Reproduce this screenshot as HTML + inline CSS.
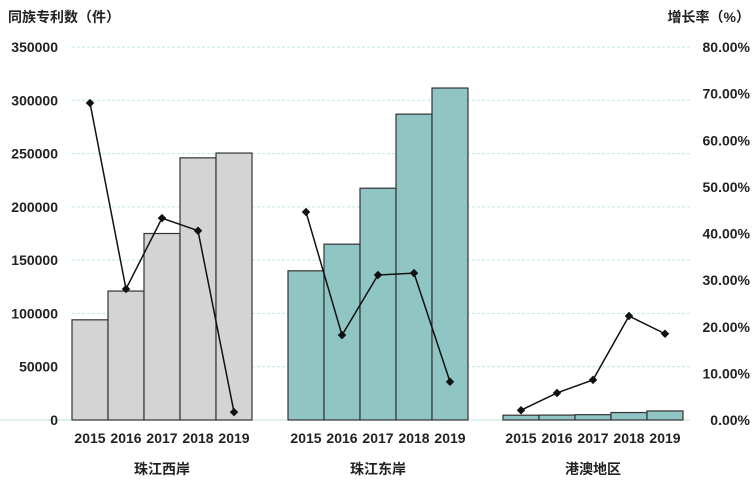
<!DOCTYPE html>
<html><head><meta charset="utf-8"><style>
body{margin:0;background:#fff;}
svg{display:block;font-family:"Liberation Sans","Noto Sans CJK SC",sans-serif;}
</style></head><body>
<svg id="chart" width="756" height="496">
<text x="8" y="22" font-size="14" font-weight="bold" fill="#222">同族专利数（件）</text>
<text x="750" y="22" font-size="14" font-weight="bold" fill="#222" text-anchor="end">增长率（%）</text>
<g id="grid"></g><g id="bars"></g><g id="lines"></g><g id="axes"></g>
</svg>
<script>
const regions=["珠江西岸","珠江东岸","港澳地区"];
const years=["2015","2016","2017","2018","2019"];
const patents=[[94000,121000,175000,246000,250500],[140000,165000,217500,287000,311500],[4500,4600,5000,7000,8500]];
const growth=[[68.0,28.1,43.3,40.6,1.7],[44.6,18.2,31.1,31.5,8.2],[2.1,5.8,8.6,22.3,18.5]];
const leftTicks=[0,50000,100000,150000,200000,250000,300000,350000];
const rightTicks=[0,10,20,30,40,50,60,70,80];
const fills=["#d4d4d4","#8fc5c2","#8fc5c2"];
const groupX=[72,288,503];
const barW=36;
const y0=420,yTop=47;
function yL(v){return y0-(v/350000)*(y0-yTop);}
function yR(v){return y0-(v/80)*(y0-yTop);}
const NS="http://www.w3.org/2000/svg";
function mk(tag,attrs,parent){const e=document.createElementNS(NS,tag);for(const k in attrs)e.setAttribute(k,attrs[k]);parent.appendChild(e);return e;}
const grid=document.getElementById('grid'),bars=document.getElementById('bars'),lines=document.getElementById('lines'),axes=document.getElementById('axes');
leftTicks.forEach(t=>{
  if(t>0){const l=mk('line',{x1:72,x2:690,y1:yL(t),y2:yL(t),stroke:'#bfe6e6','stroke-dasharray':'3,2'},grid);
  
  }
  const tx=mk('text',{x:58,y:yL(t)+5,'font-size':14,'font-weight':'bold','text-anchor':'end',fill:'#222'},axes);
  tx.textContent=t;
  
  
});
rightTicks.forEach(t=>{
  const tx=mk('text',{x:750,y:yR(t)+5,'font-size':14,'font-weight':'bold','text-anchor':'end',fill:'#222'},axes);
  tx.textContent=t.toFixed(2)+'%';
  
  
});
const base=mk('line',{x1:0,x2:690,y1:y0,y2:y0,stroke:'#bfe6e6'},grid);


regions.forEach((r,g)=>{
  const pts=[];
  years.forEach((yr,i)=>{
    const x=groupX[g]+i*barW, y=yL(patents[g][i]);
    const b=mk('rect',{x:x,y:y,width:barW,height:y0-y,fill:fills[g],stroke:'#333','stroke-width':1.2},bars);
    
    
    const t=mk('text',{x:x+barW/2,y:443,'font-size':14,'font-weight':'bold','text-anchor':'middle',fill:'#222'},axes);
    t.textContent=yr;
    
    
    pts.push([x+barW/2,yR(growth[g][i])]);
  });
  const p=mk('polyline',{points:pts.map(q=>q.join(',')).join(' '),fill:'none',stroke:'#111','stroke-width':1.5},lines);
  
  
  pts.forEach(q=>{
    const d=mk('rect',{x:q[0]-3,y:q[1]-3,width:6,height:6,fill:'#111',transform:`rotate(45 ${q[0]} ${q[1]})`},lines);
    
    
  });
  const lb=mk('text',{x:groupX[g]+barW*2.5,y:474,'font-size':14,'font-weight':'bold','text-anchor':'middle',fill:'#222'},axes);
  lb.textContent=r;
  
  
});
</script>
</body></html>
